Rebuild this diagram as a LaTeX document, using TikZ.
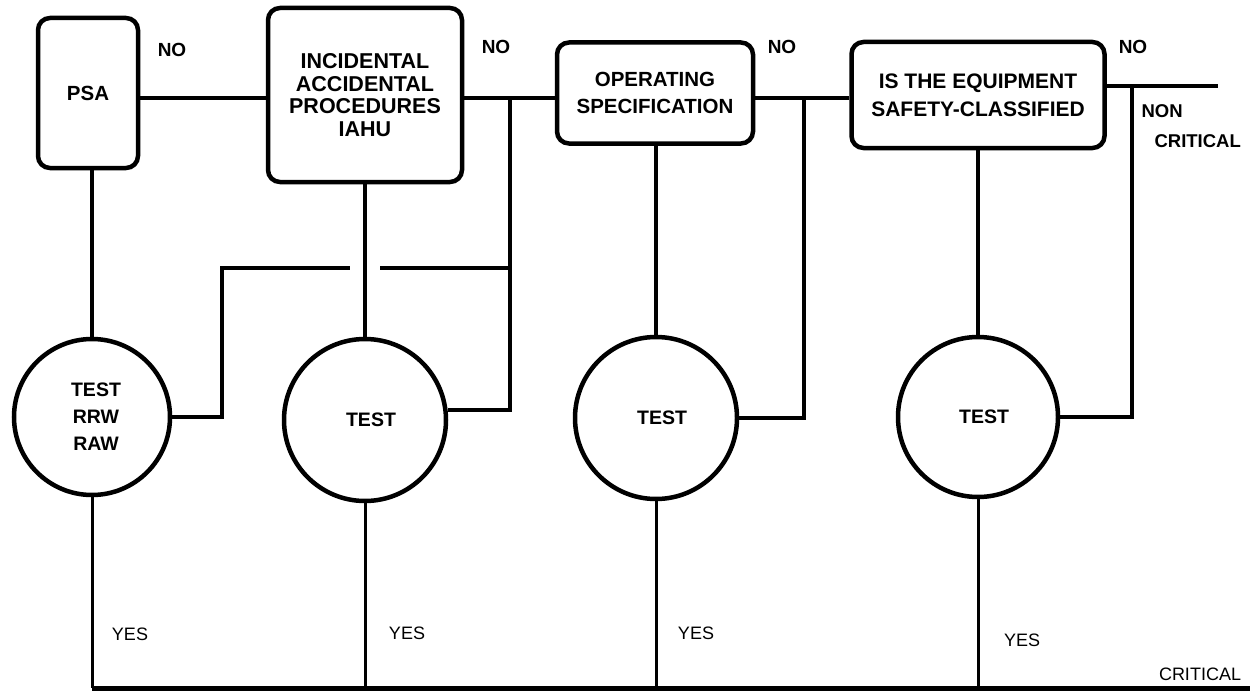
\documentclass[tikz,border=0pt]{standalone}
\usepackage{fontspec}
\setmainfont{Liberation Sans}
\newcommand{\txt}[2]{\fontsize{#1}{#2}\selectfont}
\begin{document}
\begin{tikzpicture}[x=1pt,y=-1pt,
  box/.style={draw, line width=4.5pt, rounded corners=12pt, align=center,
    inner sep=0pt, font=\bfseries\txt{20.5}{27}},
  test/.style={draw, circle, line width=4.5pt, inner sep=0pt, align=center,
    minimum size=160pt, font=\bfseries\txt{19.5}{27}},
  wire/.style={line width=4pt},
  yesline/.style={line width=3pt},
  bottom/.style={line width=5pt},
  nolbl/.style={font=\bfseries\txt{19}{23}},
  yeslbl/.style={font=\txt{18}{22}},
  side/.style={font=\bfseries\txt{18.5}{30}, align=left, anchor=north west}
]
\useasboundingbox (0,0) rectangle (1256,693);

% decision boxes
\node[box, minimum width=100pt, minimum height=150pt] (psa) at (88,93) {PSA};
\node[box, minimum width=194pt, minimum height=174pt, font=\bfseries\txt{21.5}{22.5}] (iahu) at (365,95)
  {INCIDENTAL\\ACCIDENTAL\\PROCEDURES\\IAHU};
\node[box, minimum width=196pt, minimum height=101pt] (op) at (655,93)
  {OPERATING\\SPECIFICATION};
\node[box, minimum width=253pt, minimum height=106pt, font=\bfseries\txt{21}{28}] (eq) at (978,95)
  {IS THE EQUIPMENT\\SAFETY-CLASSIFIED};

% test circles
\node[test, minimum size=156pt] (c1) at (92,417) {\hspace*{8pt}TEST\\\hspace*{8pt}RRW\\\hspace*{8pt}RAW};
\node[test, minimum size=162pt] (c2) at (365,420) {\hspace*{12pt}TEST};
\node[test, minimum size=162pt] (c3) at (656,418) {\hspace*{12pt}TEST};
\node[test, minimum size=160pt] (c4) at (978,417) {\hspace*{12pt}TEST};

% junction points
\coordinate (row) at (0,98);
\coordinate (j1) at (510,98);
\coordinate (j2) at (804,98);
\coordinate (exit) at (1218,86);
\coordinate (j3) at (1132,86);
\coordinate (k1) at (222,268);
\coordinate (k2) at (510,268);
\coordinate (gapL) at (350,268);
\coordinate (gapR) at (380,268);
\coordinate (base) at (1250,688);

% NO path along the top
\draw[wire] (psa.east |- row) -- (iahu.west |- row);
\draw[wire] (iahu.east |- row) -- (op.west |- row);
\draw[wire] (op.east |- row) -- (eq.west |- row);
\draw[wire] (eq.east |- exit) -- (exit);

% boxes down to their tests
\draw[wire] (c1.north) -- (c1.north |- psa.south);
\draw[wire] (c2.north) -- (c2.north |- iahu.south);
\draw[wire] (c3.north) -- (c3.north |- op.south);
\draw[wire] (c4.north) -- (c4.north |- eq.south);

% test outcomes fed back to the NO path
\draw[wire] (c1.east) -| (k1) -- (gapL);
\draw[wire] (gapR) -- (k2);
\draw[wire] (j1) |- (c2.7);
\draw[wire] (j2) |- (c3.east);
\draw[wire] (j3) |- (c4.east);

% YES path along the bottom
\draw[yesline] (c1.south) -- (c1.south |- base);
\draw[yesline] (c2.south) -- (c2.south |- base);
\draw[yesline] (c3.south) -- (c3.south |- base);
\draw[yesline] (c4.south) -- (c4.south |- base);
\draw[bottom] (c1.south |- base) -- (base);

% labels
\node[nolbl] (no1) at (172,50) {NO};
\node[nolbl] (no2) at (496,47) {NO};
\node[nolbl] (no3) at (782,47) {NO};
\node[nolbl] (no4) at (1133,47) {NO};
\node[side] (nc) at (1138,101) {NON\\\hspace*{13pt}CRITICAL};
\node[yeslbl] (y1) at (130,634) {YES};
\node[yeslbl] (y2) at (407,633) {YES};
\node[yeslbl] (y3) at (696,633) {YES};
\node[yeslbl] (y4) at (1022,640) {YES};
\node[yeslbl] (crit) at (1200,674) {CRITICAL};
\end{tikzpicture}
\end{document}
